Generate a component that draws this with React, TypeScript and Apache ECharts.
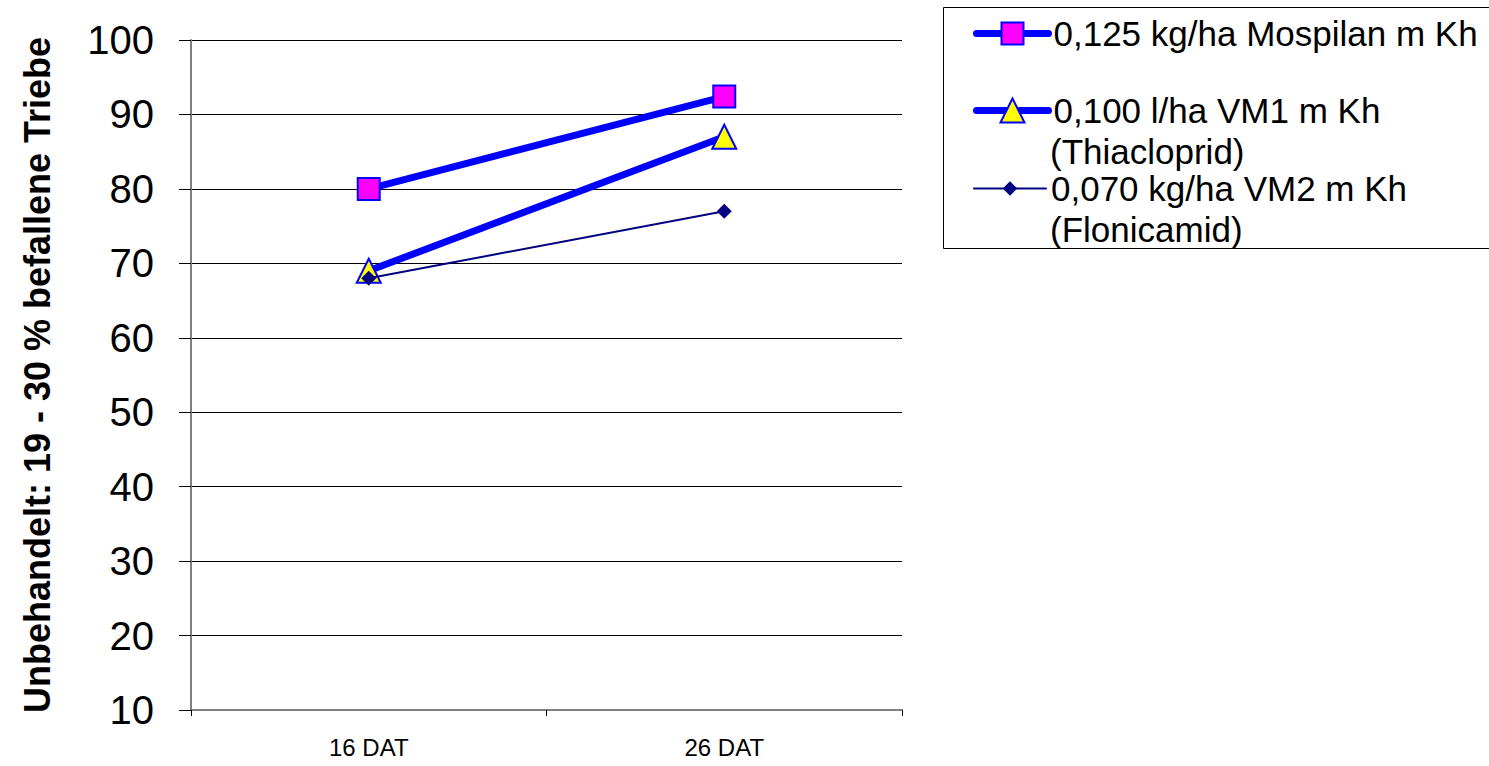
import React, { useEffect, useRef } from "react";
import * as echarts from "echarts";

const categories = ["16 DAT", "26 DAT"];
const seriesNames = [
  "0,125 kg/ha Mospilan m Kh",
  "0,100 l/ha VM1 m Kh (Thiacloprid)",
  "0,070 kg/ha VM2 m Kh (Flonicamid)",
];
const mospilanValues = [80, 92.4];
const vm1Values = [69, 87];
const vm2Values = [68, 77];
const yAxisTitle = "Unbehandelt: 19 - 30 % befallene Triebe";

const FONT = "'Liberation Sans', Arial, Helvetica, sans-serif";

const firstLine = (n: string) => n.split(" (")[0];
const secondLine = (n: string) => {
  const i = n.indexOf(" (");
  return i >= 0 ? n.slice(i + 1) : "";
};

export default function App() {
  const ref = useRef<HTMLDivElement>(null);
  useEffect(() => {
    if (!ref.current) return;
    const chart = echarts.init(ref.current, undefined, { renderer: "svg" });
    const legendRowsY = [33, 110, 188];
    const secondRowsY = [0, 151, 229];
    const legendIconH = [27.5, 30, 18];
    const legendLineW = [7, 7, 2];
    const legendBorderW = [2, 2, 0];
    const legends = seriesNames.map((n, i) => ({
      data: [n],
      left: 973,
      top: legendRowsY[i] - 17,
      orient: "horizontal",
      padding: 0,
      itemWidth: 72,
      itemHeight: legendIconH[i],
      selectedMode: false,
      formatter: (name: string) => firstLine(name),
      textStyle: { fontFamily: FONT, fontSize: 35, color: "#000", lineHeight: 34 },
      lineStyle: { width: legendLineW[i], cap: "round" },
      itemStyle: { borderWidth: legendBorderW[i] },
    }));
    const secondLines: any[] = [];
    seriesNames.forEach((n, i) => {
      const s = secondLine(n);
      if (s) {
        secondLines.push({
          type: "text",
          left: 1050,
          top: secondRowsY[i] - 17,
          style: { text: s, font: `35px ${FONT}`, fill: "#000", lineHeight: 34 },
        });
      }
    });
    chart.setOption({
      animation: false,
      backgroundColor: "#fff",
      grid: { left: 191, top: 40, right: 587, bottom: 56, containLabel: false },
      legend: legends,
      graphic: [
        {
          type: "rect",
          shape: { x: 943.5, y: 7.5, width: 600, height: 241 },
          style: { fill: "none", stroke: "#000", lineWidth: 1 },
          z: 0,
        },
        ...secondLines,
        {
          type: "text",
          x: 37,
          y: 375,
          rotation: Math.PI / 2,
          style: {
            text: yAxisTitle,
            font: `bold 36px ${FONT}`,
            fill: "#000",
            align: "center",
            verticalAlign: "middle",
          },
        },
      ],
      xAxis: {
        type: "category",
        data: categories,
        boundaryGap: true,
        axisLine: { lineStyle: { color: "#808080", width: 2 } },
        axisTick: { show: true, length: 6, lineStyle: { color: "#000", width: 1 } },
        axisLabel: { fontFamily: FONT, fontSize: 24, color: "#000", margin: 25 },
        splitLine: { show: false },
      },
      yAxis: {
        type: "value",
        min: 10,
        max: 100,
        interval: 10,
        axisLine: { show: true, lineStyle: { color: "#808080", width: 2 } },
        axisTick: { show: true, length: 12, lineStyle: { color: "#000", width: 1 } },
        axisLabel: { fontFamily: FONT, fontSize: 40, color: "#000", margin: 37 },
        splitLine: { show: true, lineStyle: { color: "#000", width: 1 } },
      },
      series: [
        {
          name: seriesNames[0],
          type: "line",
          data: mospilanValues,
          symbol: "rect",
          symbolSize: 22,
          lineStyle: { color: "#0000FF", width: 7 },
          itemStyle: { color: "#FF00FF", borderColor: "#0000FF", borderWidth: 2 },
          z: 2,
        },
        {
          name: seriesNames[1],
          type: "line",
          data: vm1Values,
          symbol: "triangle",
          symbolSize: 24,
          lineStyle: { color: "#0000FF", width: 7 },
          itemStyle: { color: "#FFFF00", borderColor: "#0000FF", borderWidth: 2 },
          z: 3,
        },
        {
          name: seriesNames[2],
          type: "line",
          data: vm2Values,
          symbol: "diamond",
          symbolSize: 15,
          lineStyle: { color: "#000080", width: 2 },
          itemStyle: { color: "#000080", borderWidth: 0 },
          z: 4,
        },
      ],
    });
    return () => chart.dispose();
  }, []);
  return (
    <div
      ref={ref}
      style={{ position: "absolute", left: 0, top: 0, width: 1489, height: 766 }}
    />
  );
}
